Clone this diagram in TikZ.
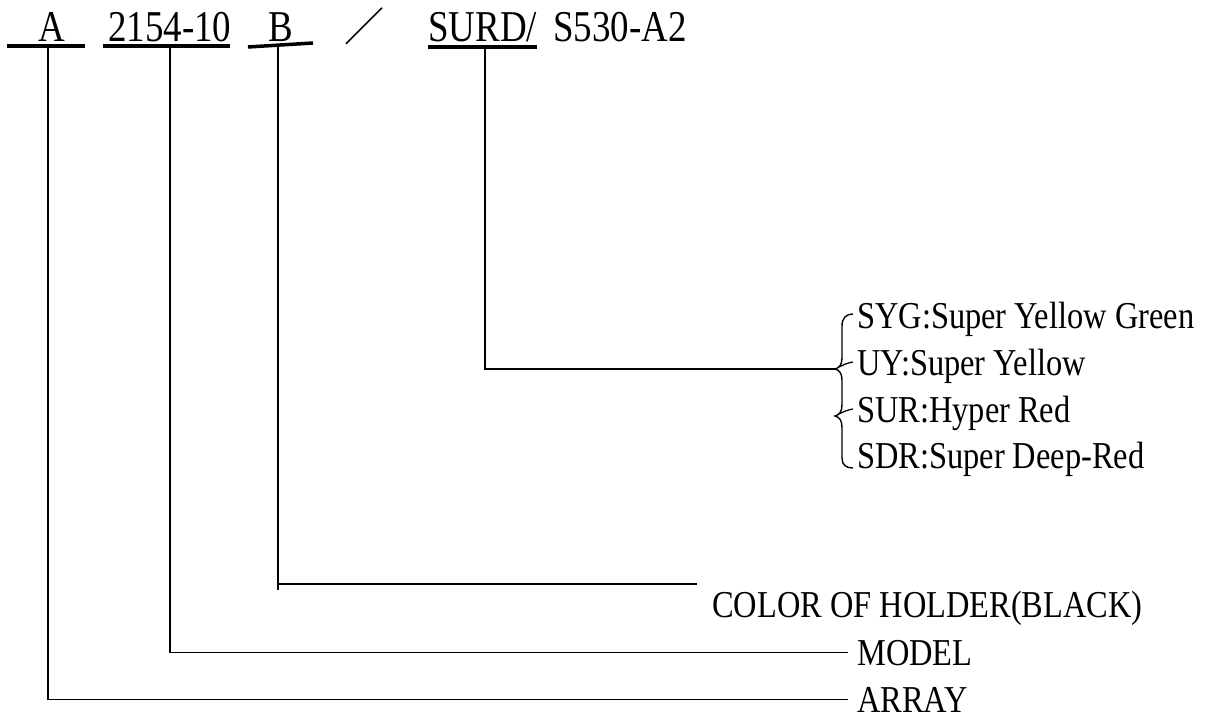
\documentclass[tikz,border=0pt]{standalone}
\usepackage{fontspec}
\setmainfont{Liberation Serif}
\newfontfamily\topfont[FakeStretch=0.84]{Liberation Serif}
\newfontfamily\labfont[FakeStretch=0.853]{Liberation Serif}
\newfontfamily\cjk{Noto Sans CJK SC}
\begin{document}
\begin{tikzpicture}[x=1pt,y=-1pt,
  lead/.style={line width=1.7pt},
  uline/.style={line width=3.5pt},
  topt/.style={font=\topfont\fontsize{44}{44}\selectfont, inner sep=0pt, anchor=base west},
  labt/.style={font=\labfont\fontsize{38}{38}\selectfont, inner sep=0pt, anchor=base west}]
\useasboundingbox (0,0) rectangle (1208,719);
% top code
\node[topt] (tA) at (38,42) {A};
\node[topt] (tM) at (108,42) {2154-10};
\node[topt] (tB) at (268,42) {B};
\node[font=\cjk\fontsize{40}{40}\selectfont, inner sep=0pt] (tS) at (364,26) {／};
\node[topt] (tC) at (428,42) {SURD/};
\node[topt] (tP) at (553,42) {S530-A2};
% underlines
\draw[uline] (7,46) -- (85,46);
\draw[uline] (103,46) -- (230,46);
\draw[uline] (248,47) -- (313,43);
\draw[uline] (428,47) -- (537,47);
\coordinate (uA) at (48,46);
\coordinate (uM) at (170,46);
\coordinate (uB) at (278,45);
\coordinate (uC) at (485,47);
% labels
\node[labt] (array) at (857,712) {ARRAY};
\node[labt] (model) at (857,665) {MODEL};
\node[labt] (color) at (712,617) {COLOR OF HOLDER(BLACK)};
\node[labt] (syg) at (857,329) {SYG:Super Yellow Green};
\node[labt] (uy)  at (857,376) {UY:Super Yellow};
\node[labt] (sur) at (857,422) {SUR:Hyper Red};
\node[labt] (sdr) at (857,468) {SDR:Super Deep-Red};
\coordinate (cend) at (697,584);
\coordinate (bend) at (278,590);
\coordinate (cusp) at (835,369);
% leaders
\draw[lead] (uA) |- ([xshift=-9pt]array.west);
\draw[lead] (uM) |- ([xshift=-9pt]model.west);
\draw[lead] (uB) -- (bend);
\draw[lead] (uB |- cend) -- (cend);
\draw[lead] (uC) |- (cusp);
% brace
\draw[line width=1.4pt]
  (853,314) .. controls (846,314) and (842,318) .. (842,326)
  -- (842,358) .. controls (842,365) and (839,368) .. (835,369)
  .. controls (839,370) and (842,373) .. (842,380)
  -- (842,405) .. controls (842,412) and (839,415) .. (835,416)
  .. controls (839,417) and (842,420) .. (842,427)
  -- (842,458) .. controls (842,465) and (846,468) .. (853,468);
\draw[line width=1.3pt] (839,367) .. controls (843,365) and (847,363) .. (853,362);
\draw[line width=1.3pt] (839,414) .. controls (843,412) and (847,410) .. (853,409);
\end{tikzpicture}
\end{document}
